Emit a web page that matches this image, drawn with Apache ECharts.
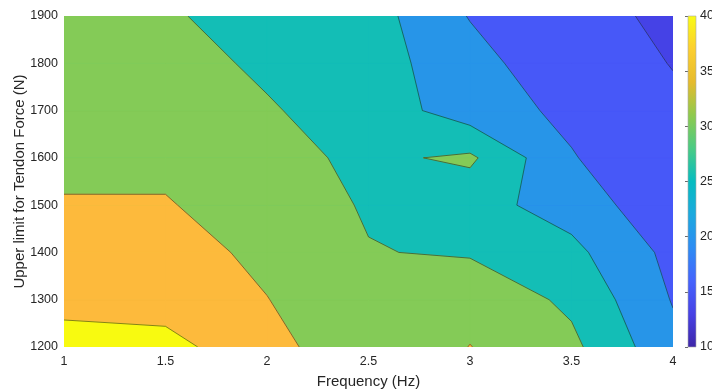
<!DOCTYPE html>
<html>
<head>
<meta charset="utf-8">
<script src="https://cdn.jsdelivr.net/npm/echarts@6/dist/echarts.min.js"></script>
<style>
  html, body { margin: 0; padding: 0; background: #ffffff; }
  #chart { width: 712px; height: 392px; }
</style>
</head>
<body>
<div id="chart"></div>
<script>
// Sampling grid: drive frequency (Hz) and upper tendon-force limit (N)
const frequencies = [1, 1.5, 2, 2.5, 3, 3.5, 4];
const forceLimits = [1200, 1300, 1400, 1500, 1600, 1700, 1800, 1900];

// Measured response at each frequency, listed from 1200 N up to 1900 N
const zAt1p0 = [42.0, 38.5, 37.5, 35.5, 33.33, 32.5, 31.8, 31.2];
const zAt1p5 = [41.4, 38.2, 36.8, 35.34, 33.86, 32.5, 31.56, 30.6];
const zAt2p0 = [37.0, 35.1, 34.0, 32.5, 31.5, 30.38, 29.3, 27.87];
const zAt2p5 = [30.7, 31.5, 30.2, 29.59, 29.0, 28.0, 27.17, 27.15];
const zAt3p0 = [35.1, 33.4, 29.53, 26.8, 30.85, 22.35, 22.0, 19.73];
const zAt3p5 = [31.13, 29.04, 26.29, 22.9, 20.3, 18.94, 16.12, 15.9];
const zAt4p0 = [21.39, 19.7, 18.6, 16.3, 16.0, 15.37, 14.93, 14.47];

// Contour levels and colour-bar range
const contourLevels = [15, 20, 25, 30, 35, 40];
const colorbarRange = [10, 40];
const colorbarStep = 5;

const zColumns = [zAt1p0, zAt1p5, zAt2p0, zAt2p5, zAt3p0, zAt3p5, zAt4p0];

// Fill colour for each band: below first level, then above each level
const bandColors = ['#4542E6', '#4758F8', '#2795E8', '#13BEB6', '#84CB57', '#FDBA3C', '#F8FA10'];

// Parula-style gradient used by the colour bar
const parulaStops = ['#3E26A8', '#4741E5', '#4563FD', '#2D8CF3', '#1CA9DF', '#06BCC0',
                     '#4ACB84', '#8FCA4E', '#E6BB2D', '#FCCF30', '#F9FB15'];

const textColor = '#262626';
const fontFamily = '"Liberation Sans", Arial, Helvetica, sans-serif';
const tickFontSize = 12.5;
const titleFontSize = 15;

// One data item per grid cell: centre position plus cell indices
const cells = [];
for (let i = 0; i < frequencies.length - 1; i++) {
  for (let j = 0; j < forceLimits.length - 1; j++) {
    cells.push([
      (frequencies[i] + frequencies[i + 1]) / 2,
      (forceLimits[j] + forceLimits[j + 1]) / 2,
      i, j
    ]);
  }
}

function cellCorners(i, j) {
  const c = (a, b) => ({ x: frequencies[a], y: forceLimits[b], z: zColumns[a][b] });
  return [c(i, j), c(i + 1, j), c(i + 1, j + 1), c(i, j + 1)];
}

// Part of a cell polygon where z >= level (linear interpolation on edges)
function clipAbove(poly, level) {
  if (!isFinite(level)) return poly;
  const out = [];
  for (let k = 0; k < poly.length; k++) {
    const a = poly[k], b = poly[(k + 1) % poly.length];
    const aIn = a.z >= level, bIn = b.z >= level;
    if (aIn) out.push(a);
    if (aIn !== bIn) {
      const t = (level - a.z) / (b.z - a.z);
      out.push({ x: a.x + t * (b.x - a.x), y: a.y + t * (b.y - a.y), z: level });
    }
  }
  return out;
}

// Iso-line segments of one level inside a cell
function levelSegments(poly, level) {
  const pts = [];
  for (let k = 0; k < 4; k++) {
    const a = poly[k], b = poly[(k + 1) % 4];
    if ((a.z >= level) !== (b.z >= level)) {
      const t = (level - a.z) / (b.z - a.z);
      pts.push([a.x + t * (b.x - a.x), a.y + t * (b.y - a.y)]);
    }
  }
  if (pts.length === 2) return [[pts[0], pts[1]]];
  if (pts.length === 4) {
    const centre = (poly[0].z + poly[1].z + poly[2].z + poly[3].z) / 4;
    if ((poly[0].z >= level) === (centre >= level)) return [[pts[0], pts[1]], [pts[2], pts[3]]];
    return [[pts[3], pts[0]], [pts[1], pts[2]]];
  }
  return [];
}

// Filled layers: layer k covers everything at or above its threshold
function fillLayer(k) {
  const threshold = k === 0 ? -Infinity : contourLevels[k - 1];
  return {
    type: 'custom',
    xAxisIndex: 0, yAxisIndex: 0,
    data: cells,
    encode: { x: 0, y: 1 },
    silent: true,
    clip: true,
    renderItem: function (params, api) {
      const poly = clipAbove(cellCorners(api.value(2), api.value(3)), threshold);
      if (poly.length < 3) return null;
      return {
        type: 'polygon',
        shape: { points: poly.map(p => api.coord([p.x, p.y])) },
        style: { fill: bandColors[k], stroke: bandColors[k], lineWidth: 0.8 }
      };
    }
  };
}

const contourLines = {
  type: 'custom',
  xAxisIndex: 0, yAxisIndex: 0,
  data: cells,
  encode: { x: 0, y: 1 },
  silent: true,
  clip: true,
  renderItem: function (params, api) {
    const poly = cellCorners(api.value(2), api.value(3));
    const children = [];
    contourLevels.forEach(level => {
      levelSegments(poly, level).forEach(seg => {
        const p = api.coord(seg[0]), q = api.coord(seg[1]);
        children.push({
          type: 'line',
          shape: { x1: p[0], y1: p[1], x2: q[0], y2: q[1] },
          style: { stroke: 'rgba(25,25,25,0.8)', lineWidth: 0.65 }
        });
      });
    });
    return { type: 'group', children: children };
  }
};

// Colour bar drawn as one gradient rectangle over the colour-bar range
const colorbarSeries = {
  type: 'custom',
  xAxisIndex: 1, yAxisIndex: 1,
  data: [[0, colorbarRange[0], 1, colorbarRange[1]]],
  encode: { x: [0, 2], y: [1, 3] },
  silent: true,
  renderItem: function (params, api) {
    const lo = api.coord([api.value(0), api.value(1)]);
    const hi = api.coord([api.value(2), api.value(3)]);
    const stops = parulaStops.map((c, idx) => ({ offset: idx / (parulaStops.length - 1), color: c }));
    return {
      type: 'rect',
      shape: { x: lo[0], y: hi[1], width: hi[0] - lo[0], height: lo[1] - hi[1] },
      style: {
        fill: new echarts.graphic.LinearGradient(0, 1, 0, 0, stops),
        stroke: '#a8a8a8',
        lineWidth: 0.6
      }
    };
  }
};

const chart = echarts.init(document.getElementById('chart'), null, { renderer: 'canvas' });

chart.setOption({
  animation: false,
  backgroundColor: '#ffffff',
  textStyle: { fontFamily: fontFamily },
  grid: [
    { left: 64, right: 39, top: 16, bottom: 45, containLabel: false, outerBoundsMode: 'none' },
    { left: 688, width: 8, top: 16, bottom: 45, containLabel: false, outerBoundsMode: 'none' }
  ],
  xAxis: [
    {
      type: 'value', gridIndex: 0,
      min: frequencies[0], max: frequencies[frequencies.length - 1], interval: 0.5,
      axisLine: { show: false }, axisTick: { show: false }, splitLine: { show: false },
      axisLabel: { color: textColor, fontSize: tickFontSize, margin: 8, fontFamily: fontFamily,
                   formatter: v => String(v) },
      name: 'Frequency (Hz)', nameLocation: 'middle', nameGap: 27, nameMoveOverlap: false,
      nameTextStyle: { color: textColor, fontSize: titleFontSize, fontFamily: fontFamily }
    },
    {
      type: 'value', gridIndex: 1, min: 0, max: 1, show: false
    }
  ],
  yAxis: [
    {
      type: 'value', gridIndex: 0,
      min: forceLimits[0], max: forceLimits[forceLimits.length - 1], interval: 100,
      axisLine: { show: false }, axisTick: { show: false }, splitLine: { show: false },
      axisLabel: { color: textColor, fontSize: tickFontSize, margin: 6, fontFamily: fontFamily,
                   formatter: v => String(v) },
      name: 'Upper limit for Tendon Force (N)', nameLocation: 'middle', nameGap: 37,
      nameMoveOverlap: false,
      nameTextStyle: { color: textColor, fontSize: titleFontSize, fontFamily: fontFamily }
    },
    {
      type: 'value', gridIndex: 1, position: 'right',
      min: colorbarRange[0], max: colorbarRange[1], interval: colorbarStep,
      axisLine: { show: false },
      axisTick: { show: true, inside: true, length: 3, lineStyle: { color: '#444444', width: 0.8 } },
      splitLine: { show: false },
      axisLabel: { color: textColor, fontSize: tickFontSize, margin: 4, fontFamily: fontFamily,
                   formatter: v => String(v) }
    }
  ],
  series: bandColors.map((c, k) => fillLayer(k)).concat([contourLines, colorbarSeries])
});
</script>
</body>
</html>
